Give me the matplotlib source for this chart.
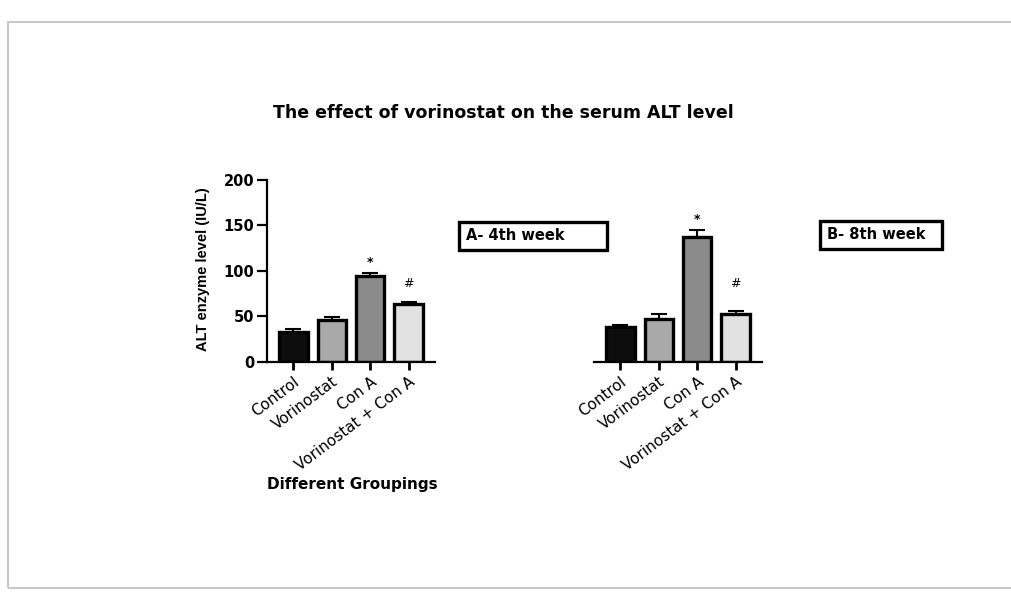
import numpy as np
import matplotlib.pyplot as plt
from matplotlib.patches import Rectangle

# data
groups = ['Control', 'Vorinostat', 'Con A', 'Vorinostat + Con A']
alt_4th = [33, 46, 94, 63]
err_4th = [2.8, 3.0, 3.7, 2.6]
alt_8th = [38, 47, 137, 52]
err_8th = [2.5, 5.5, 8.0, 3.3]
marks = ['', '', '*', '#']
colors = ['#0d0d0d', '#a9a9a9', '#8b8b8b', '#e1e1e1']

fig = plt.figure(figsize=(10.11, 5.94), dpi=100)

# page frame
fig.patches.append(Rectangle((8 / 1011, 6 / 594), 1.2, 566 / 594, transform=fig.transFigure,
                             fill=False, edgecolor='#c8c8c8', linewidth=1.5))

ax1 = fig.add_axes([267 / 1011, 232.3 / 594, 168 / 1011, 181.7 / 594])
ax2 = fig.add_axes([594 / 1011, 232.3 / 594, 168 / 1011, 181.7 / 594])

x = np.arange(len(groups))


def draw_panel(ax, vals, errs, show_y):
    ax.bar(x, vals, width=0.74, color=colors, edgecolor='black', linewidth=2.4, zorder=2)
    ax.errorbar(x, vals, yerr=[np.zeros(len(vals)), errs], fmt='none', ecolor='black',
                elinewidth=1.5, capsize=6, capthick=1.5, zorder=1)
    for xi, v, e, m in zip(x, vals, errs, marks):
        if m == '*':
            ax.text(xi, v + e + 12, m, ha='center', va='center', fontsize=9, fontweight='bold')
        elif m == '#':
            ax.text(xi, 86, m, ha='center', va='center', fontsize=9)
    ax.set_xlim(-0.69, 3.69)
    ax.set_ylim(0, 200)
    ax.set_xticks(x)
    ax.set_xticklabels(groups, rotation=37, ha='right', rotation_mode='anchor',
                       fontsize=11, family='DejaVu Sans')
    ax.tick_params(axis='x', length=6, width=2, pad=3)
    for s in ['top', 'right']:
        ax.spines[s].set_visible(False)
    ax.spines['bottom'].set_linewidth(1.6)
    if show_y:
        ax.spines['left'].set_linewidth(1.6)
        ax.set_yticks([0, 50, 100, 150, 200])
        ax.tick_params(axis='y', length=7, width=1.6, pad=2, labelsize=10.5)
        for t in ax.get_yticklabels():
            t.set_fontweight('bold')
    else:
        ax.spines['left'].set_visible(False)
        ax.set_yticks([])
    ax.patch.set_visible(False)


draw_panel(ax1, alt_4th, err_4th, True)
draw_panel(ax2, alt_8th, err_8th, False)

fig.text(203 / 1011, 1 - 269 / 594, 'ALT enzyme level (IU/L)', rotation=90,
         ha='center', va='center', fontsize=10.5, fontweight='bold',
         family=['Liberation Sans Narrow', 'Liberation Sans'])
fig.text(352 / 1011, 1 - 484 / 594, 'Different Groupings', ha='center', va='center',
         fontsize=11, fontweight='bold')

fig.text(503 / 1011, 1 - 113 / 594, 'The effect of vorinostat on the serum ALT level',
         ha='center', va='center', fontsize=12.5, fontweight='bold', family='DejaVu Sans')

box = dict(boxstyle='square,pad=0.45', facecolor='white', edgecolor='black', linewidth=2.4)
fig.text(466 / 1011, 1 - 236 / 594, 'A- 4th week       ', ha='left', va='center',
         fontsize=10.5, fontweight='bold', bbox=box)
fig.text(827 / 1011, 1 - 235 / 594, 'B- 8th week  ', ha='left', va='center',
         fontsize=10.5, fontweight='bold', bbox=box)

fig.savefig('out.png', dpi=100)
